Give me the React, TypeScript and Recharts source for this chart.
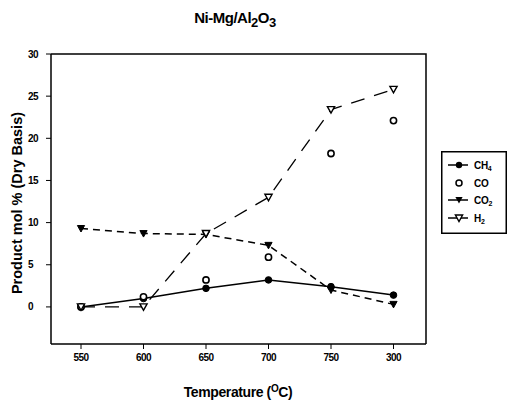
import React from "react";
import { LineChart, Line, XAxis, YAxis } from "recharts";

const temperatures = [550, 600, 650, 700, 750, 800];
const xTickLabels = ["550", "600", "650", "700", "750", "300"];
const yTicks = [0, 5, 10, 15, 20, 25, 30];
const ch4 = [0.0, 1.0, 2.2, 3.2, 2.4, 1.4];
const co = [0.0, 1.2, 3.2, 5.9, 18.2, 22.1];
const co2 = [9.3, 8.7, 8.6, 7.3, 2.0, 0.3];
const h2 = [0.0, 0.0, 8.7, 13.0, 23.4, 25.8];

const X_DOMAIN = [526, 826];
const Y_DOMAIN = [-4.4, 30];

const W = 507;
const H = 407;
const MARGIN = { top: 54, right: 81, left: 11, bottom: 33 };
const Y_AXIS_W = 40;
const X_AXIS_H = 30;
const PLOT_X = 51;
const PLOT_Y = 54;
const PLOT_W = 375;
const PLOT_H = 290;

const data = temperatures.map((t, i) => ({
  t,
  ch4: ch4[i],
  co: co[i],
  co2: co2[i],
  h2: h2[i],
}));

const FONT = "'Liberation Sans', Arial, sans-serif";

const filledCircle = (props: any) => (
  <circle key={`fc-${props.index}`} cx={props.cx} cy={props.cy} r={3.3} fill="#000" stroke="#000" strokeWidth={1} />
);
const openCircle = (props: any) => (
  <circle key={`oc-${props.index}`} cx={props.cx} cy={props.cy} r={3.1} fill="#fff" stroke="#000" strokeWidth={1.6} />
);
const triPath = (cx: number, cy: number) =>
  `M${cx - 3.6},${cy - 3} L${cx + 3.6},${cy - 3} L${cx},${cy + 3.5} Z`;
const filledTri = (props: any) => (
  <path key={`ft-${props.index}`} d={triPath(props.cx, props.cy)} fill="#000" stroke="#000" strokeWidth={1} />
);
const openTri = (props: any) => (
  <path key={`ot-${props.index}`} d={triPath(props.cx, props.cy)} fill="#fff" stroke="#000" strokeWidth={1.4} />
);

const XTick = (props: any) => {
  const idx = temperatures.indexOf(props.payload.value);
  return (
    <text x={props.x} y={props.y + 3} dy="0.71em" textAnchor="middle" fontFamily={FONT} fontWeight="bold" fontSize={10} fill="#000" letterSpacing={-0.6}>
      {idx >= 0 ? xTickLabels[idx] : ""}
    </text>
  );
};

const YTick = (props: any) => (
  <text x={28} y={props.y} dy="0.355em" textAnchor="start" fontFamily={FONT} fontWeight="bold" fontSize={10} fill="#000" letterSpacing={-0.6}>
    {props.payload.value}
  </text>
);

const legendRows = [
  { y: 14, name: "CH", sub: "4", kind: "fc", line: true },
  { y: 32, name: "CO", sub: "", kind: "oc", line: false },
  { y: 49, name: "CO", sub: "2", kind: "ft", line: true },
  { y: 67, name: "H", sub: "2", kind: "ot", line: true },
];

export default function App() {
  return (
    <div style={{ position: "absolute", left: 0, top: 0, width: W, height: H, background: "#fff" }}>
      <svg
        width={W}
        height={H}
        style={{ position: "absolute", left: 0, top: 0, pointerEvents: "none", zIndex: 2 }}
      >
        <path
          d={`M${PLOT_X},${PLOT_Y} H${PLOT_X + PLOT_W} V${PLOT_Y + PLOT_H}`}
          fill="none"
          stroke="#000"
          strokeWidth={1.5}
        />
      </svg>
      <LineChart width={W} height={H} data={data} margin={MARGIN}>
        <XAxis
          dataKey="t"
          type="number"
          domain={X_DOMAIN}
          ticks={temperatures}
          allowDataOverflow
          tick={<XTick />}
          tickSize={5}
          tickMargin={2}
          height={X_AXIS_H}
          axisLine={{ stroke: "#000", strokeWidth: 1.5 }}
          tickLine={{ stroke: "#000", strokeWidth: 1 }}
        />
        <YAxis
          type="number"
          domain={Y_DOMAIN}
          ticks={yTicks}
          allowDataOverflow
          tick={<YTick />}
          tickSize={5}
          width={Y_AXIS_W}
          axisLine={{ stroke: "#000", strokeWidth: 1.5 }}
          tickLine={{ stroke: "#000", strokeWidth: 1 }}
        />
        <Line dataKey="ch4" stroke="#000" strokeWidth={1.5} dot={filledCircle} isAnimationActive={false} />
        <Line dataKey="co" stroke="none" dot={openCircle} isAnimationActive={false} />
        <Line dataKey="co2" stroke="#000" strokeWidth={1.5} strokeDasharray="7 5" dot={filledTri} isAnimationActive={false} />
        <Line dataKey="h2" stroke="#000" strokeWidth={1.3} strokeDasharray="14 10" dot={openTri} isAnimationActive={false} />
        <g transform="translate(441,151)">
          <rect x={0.75} y={0.75} width={64.5} height={81.5} fill="#fff" stroke="#000" strokeWidth={1.5} />
          {legendRows.map((r) => (
            <g key={r.name + r.sub}>
              {r.line && <line x1={7} x2={27} y1={r.y} y2={r.y} stroke="#000" strokeWidth={1.5} />}
              {r.kind === "fc" && <circle cx={18} cy={r.y} r={3.2} fill="#000" />}
              {r.kind === "oc" && <circle cx={18} cy={r.y} r={3} fill="#fff" stroke="#000" strokeWidth={1.5} />}
              {r.kind === "ft" && <path d={triPath(18, r.y)} fill="#000" />}
              {r.kind === "ot" && <path d={triPath(18, r.y)} fill="#fff" stroke="#000" strokeWidth={1.4} />}
              <text x={33} y={r.y + 4} fontFamily={FONT} fontWeight="bold" fontSize={10} fill="#000" letterSpacing={-0.3}>
                {r.name}
                {r.sub && (
                  <tspan fontSize={7} dy={2}>
                    {r.sub}
                  </tspan>
                )}
              </text>
            </g>
          ))}
        </g>
        <text x={235} y={23} textAnchor="middle" fontFamily={FONT} fontWeight="bold" fontSize={15} fill="#000" letterSpacing={-0.5}>
          Ni-Mg/Al
          <tspan fontSize={13} dy={4}>2</tspan>
          <tspan fontSize={15} dy={-4}>O</tspan>
          <tspan fontSize={13} dy={4}>3</tspan>
        </text>
        <text
          x={17}
          y={203}
          transform="rotate(-90 17 203)"
          textAnchor="middle"
          dominantBaseline="central"
          fontFamily={FONT}
          fontWeight="bold"
          fontSize={14.5}
          fill="#000"
        >
          Product mol % (Dry Basis)
        </text>
        <text x={238} y={397} textAnchor="middle" fontFamily={FONT} fontWeight="bold" fontSize={14} fill="#000" letterSpacing={-0.4}>
          Temperature (
          <tspan fontSize={10} dy={-5}>O</tspan>
          <tspan fontSize={14} dy={5}>C)</tspan>
        </text>
      </LineChart>
    </div>
  );
}
